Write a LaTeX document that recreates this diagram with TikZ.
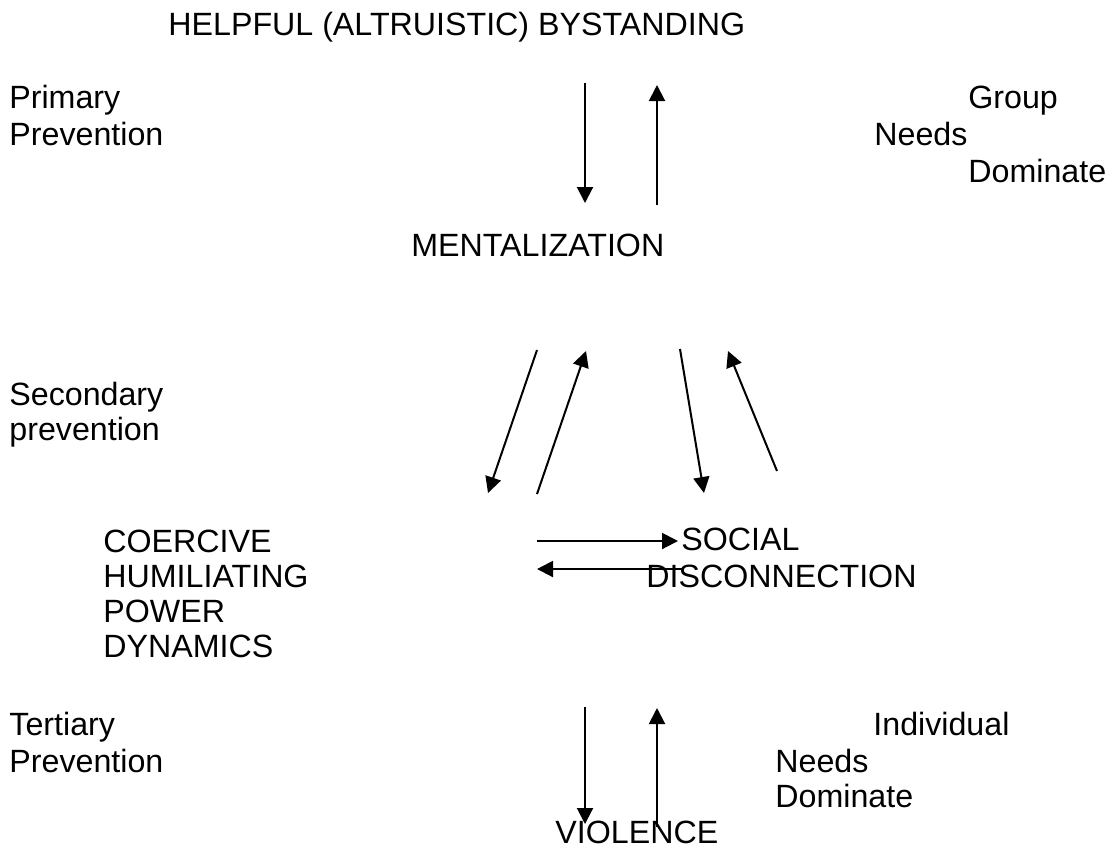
\documentclass[tikz,border=0pt]{standalone}
\usepackage{fontspec}
\setmainfont{Liberation Sans}
\usetikzlibrary{arrows.meta, positioning}

\begin{document}
\begin{tikzpicture}[x=0.5pt, y=-0.5pt,
	word/.style={inner sep=0pt, anchor=base west, font=\fontsize{16.1}{18}\selectfont},
	link/.style={-{Triangle[length=8pt, width=8pt]}, line width=1pt}]
	\useasboundingbox (0,0) rectangle (1112,848);

	% levels
	\node[word] (helpful) at (168,35) {HELPFUL (ALTRUISTIC) BYSTANDING};
	\node[word] (ment) at (411,256) {MENTALIZATION};
	\node[word] (coer) at (103,552) {COERCIVE};
	\node[word] (humil) at (103,587) {HUMILIATING};
	\node[word] (power) at (103,622) {POWER};
	\node[word] (dyn) at (103,657) {DYNAMICS};
	\node[word] (social) at (681,550) {SOCIAL};
	\node[word] (disc) at (646,587) {DISCONNECTION};
	\node[word] (viol) at (555,843) {VIOLENCE};

	% prevention side
	\node[word] (prim) at (9,108) {Primary};
	\node[word] (primprev) at (9,145) {Prevention};
	\node[word] (sec) at (9,405) {Secondary};
	\node[word] (secprev) at (9,440) {prevention};
	\node[word] (tert) at (9,735) {Tertiary};
	\node[word] (tertprev) at (9,772) {Prevention};

	% needs side
	\node[word] (group) at (968,108) {Group};
	\node[word] (gneeds) at (874,145) {Needs};
	\node[word] (gdom) at (968,182) {Dominate};
	\node[word] (indiv) at (873,735) {Individual};
	\node[word] (ineeds) at (775,772) {Needs};
	\node[word] (idom) at (775,807) {Dominate};

	% arrows
	\foreach \sx/\sy/\ex/\ey [count=\i] in {
		585/83/585/203, 657/205/657/85,
		537/350/488/493, 537/494/586/351,
		680/349/704/493, 777/471/728/351,
		537/541/678/541, 683/569/537/569,
		585/707/585/824, 657/827/657/708}{
		\coordinate (s\i) at (\sx,\sy);
		\coordinate (e\i) at (\ex,\ey);
		\draw[link] (s\i) -- (e\i);
	}
\end{tikzpicture}
\end{document}
